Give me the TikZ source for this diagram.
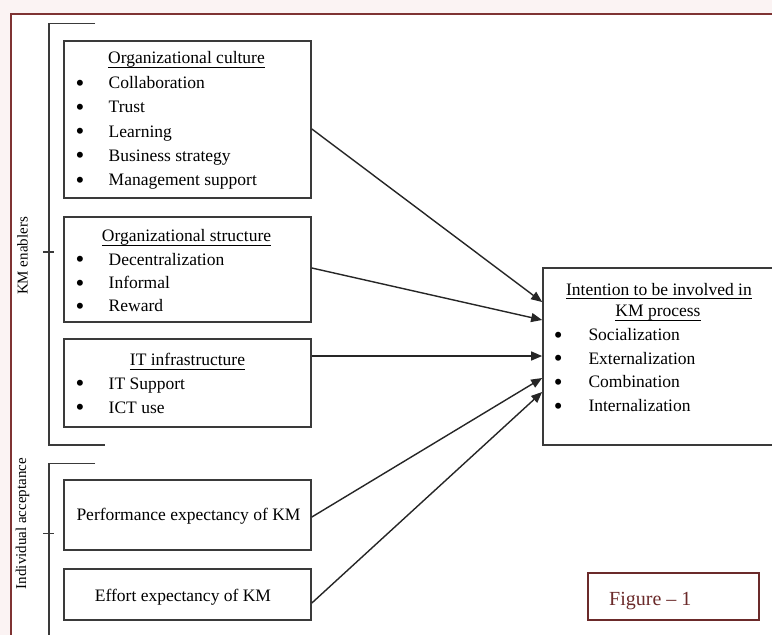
\documentclass[tikz,border=0pt]{standalone}
\usepackage{fontspec}
\setmainfont{Liberation Serif}
\usetikzlibrary{arrows.meta}
\definecolor{pinkbg}{HTML}{FBF3F3}
\definecolor{framered}{HTML}{7F3333}
\definecolor{boxgray}{HTML}{3A3A3A}
\definecolor{figred}{HTML}{6B2A2A}
\newcommand\ulx[1]{\setbox0\hbox{#1}\rlap{\vrule height -3pt depth 4.2pt width \wd0}\box0}
\tikzset{
 box/.style={draw=boxgray, line width=1.7pt, minimum width=247pt, inner sep=0pt},
 txt/.style={anchor=base west, inner sep=0pt, font=\fontsize{17.5}{20}\selectfont},
 ttl/.style={anchor=base, inner sep=0pt, font=\fontsize{17.5}{20}\selectfont},
 bul/.style={anchor=base, inner sep=0pt, yshift=-2.6pt, font=\fontsize{25}{28}\selectfont},
 arr/.style={-{Triangle[length=11pt,width=9pt]}, line width=1.4pt, black!85},
 brk/.style={draw=boxgray, line width=1.6pt},
 side/.style={rotate=90, inner sep=0pt, font=\fontsize{15}{18}\selectfont},
}
\begin{document}
\begin{tikzpicture}[x=1pt,y=-1pt]
\useasboundingbox (0,0) rectangle (772,635);
\clip (0,0) rectangle (772,635);
\fill[pinkbg] (0,0) rectangle (772,635);
\filldraw[fill=white, draw=framered, line width=2pt] (11,14.3) rectangle (800,660);
% brackets
\coordinate (b1t) at (95,23.3);
\coordinate (b1a) at (49,23.3);
\coordinate (b1b) at (49,445);
\coordinate (b1e) at (105,445);
\draw[brk] (b1t) -- (b1a) -- (b1b) -- (b1e);
\draw[brk] (43.3,251.7) -- (54,251.7);
\coordinate (b2t) at (95,463.3);
\coordinate (b2a) at (49,463.3);
\coordinate (b2b) at (49,650);
\draw[brk] (b2t) -- (b2a) -- (b2b);
\draw[brk] (43.3,533.3) -- (54,533.3);
\node[side] (kme) at (22.5,256) {KM enablers};
\node[side] (ind) at (22.5,523.5) {Individual acceptance};
% boxes
\node[box, minimum height=157pt] (oc) at (187.5,119.5) {};
\node[box, minimum height=105pt] (os) at (187.5,269.5) {};
\node[box, minimum height=88pt] (it) at (187.5,383) {};
\node[box, minimum height=70pt] (pe) at (187.5,515) {};
\node[box, minimum height=51pt] (ee) at (187.5,594.5) {};
\node[box, minimum width=257pt, minimum height=177pt] (in) at (671.5,356.5) {};
% organizational culture
\node[ttl] (oct) at (186.5,63.5) {\ulx{Organizational culture}};
\foreach \t [count=\i] in {Collaboration,Trust,Learning,Business strategy,Management support}{
  \node[bul] (ocb\i) at (80,{88.5+24.25*(\i-1)}) {•};
  \node[txt] (oc\i) at (108.5,{88.5+24.25*(\i-1)}) {\t};
}
% organizational structure
\node[ttl] (ost) at (186.5,241.7) {\ulx{Organizational structure}};
\foreach \t [count=\i] in {Decentralization,Informal,Reward}{
  \node[bul] (osb\i) at (80,{265+23.4*(\i-1)}) {•};
  \node[txt] (os\i) at (108.5,{265+23.4*(\i-1)}) {\t};
}
% IT infrastructure
\node[ttl] (itt) at (187.5,365.7) {\ulx{IT infrastructure}};
\foreach \t [count=\i] in {IT Support,ICT use}{
  \node[bul] (itb\i) at (80,{389.3+24*(\i-1)}) {•};
  \node[txt] (it\i) at (108.5,{389.3+24*(\i-1)}) {\t};
}
% individual acceptance
\node[ttl] (pet) at (188.5,520) {Performance expectancy of KM};
\node[ttl] (eet) at (183,601.7) {Effort expectancy of KM};
% intention
\node[ttl] (int1) at (659,295) {\ulx{Intention to be involved in}};
\node[ttl] (int2) at (658,316.7) {\ulx{KM process}};
\foreach \t [count=\i] in {Socialization,Externalization,Combination,Internalization}{
  \node[bul] (inb\i) at (558.3,{340.7+23.6*(\i-1)}) {•};
  \node[txt] (in\i) at (588.3,{340.7+23.6*(\i-1)}) {\t};
}
% arrows
\draw[arr] ([yshift=-9.5pt]oc.east) -- ([yshift=54.5pt]in.west);
\draw[arr] ([yshift=1.5pt]os.east) -- ([yshift=36.5pt]in.west);
\draw[arr] ([yshift=27pt]it.east) -- ([yshift=0.5pt]in.west);
\draw[arr] ([yshift=-2pt]pe.east) -- ([yshift=-21.5pt]in.west);
\draw[arr] ([yshift=-8.5pt]ee.east) -- ([yshift=-35.5pt]in.west);
% figure label
\node[draw=figred, line width=1.8pt, minimum width=171pt, minimum height=47pt, inner sep=0pt] (fig) at (673.5,596.5) {};
\node[anchor=base west, inner sep=0pt, text=figred, font=\fontsize{20}{24}\selectfont] (figt) at (609,605) {Figure – 1};
\end{tikzpicture}
\end{document}
